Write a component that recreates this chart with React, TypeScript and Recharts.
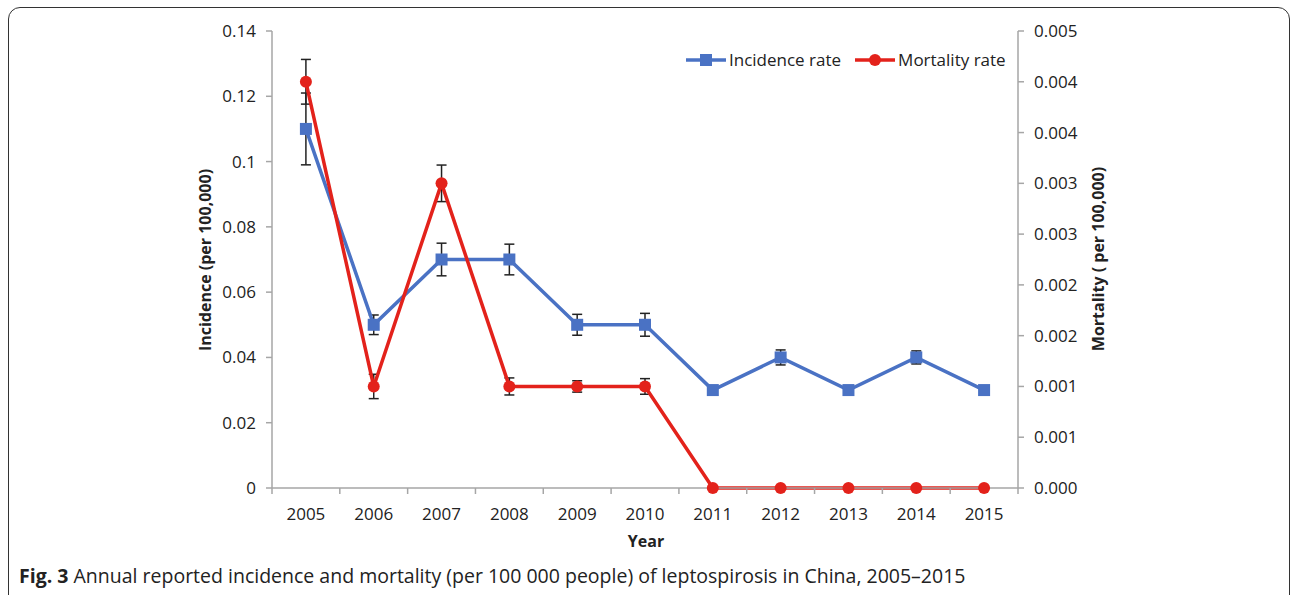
import React from 'react'
import {
  LineChart,
  Line,
  XAxis,
  YAxis,
  ErrorBar,
  Legend,
} from 'recharts'

// annual figures, per 100,000 people
const years = ['2005', '2006', '2007', '2008', '2009', '2010', '2011', '2012', '2013', '2014', '2015']
const incidence = [0.11, 0.05, 0.07, 0.07, 0.05, 0.05, 0.03, 0.04, 0.03, 0.04, 0.03]
const incidenceErr = [0.011, 0.003, 0.005, 0.0047, 0.0032, 0.0035, 0, 0.0023, 0.0012, 0.002, 0]
const mortality = [0.004, 0.001, 0.003, 0.001, 0.001, 0.001, 0, 0, 0, 0, 0]
const mortalityErr = [0.00022, 0.00012, 0.00018, 0.000084, 0.000056, 0.000077, 0, 0, 0, 0, 0]

const leftTicks = [0, 0.02, 0.04, 0.06, 0.08, 0.1, 0.12, 0.14]
const leftLabels = ['0', '0.02', '0.04', '0.06', '0.08', '0.1', '0.12', '0.14']
const rightTicks = [0, 0.0005, 0.001, 0.0015, 0.002, 0.0025, 0.003, 0.0035, 0.004, 0.0045]
const rightLabels = ['0.000', '0.001', '0.001', '0.002', '0.002', '0.003', '0.003', '0.004', '0.004', '0.005']

const data = years.map((year, i) => ({
  year,
  incidence: incidence[i],
  incidenceErr: incidenceErr[i],
  mortality: mortality[i],
  mortalityErr: mortalityErr[i],
}))

const BLUE = '#4A72C4'
const RED = '#E3221B'
const AXIS = '#A6A6A6'
const FONT = '"Open Sans", sans-serif'

const SquareDot = (props: any) => {
  const { cx, cy, index } = props
  if (cx == null || cy == null) return null
  return <rect key={`sq-${index}`} x={cx - 6} y={cy - 6} width={12} height={12} fill={BLUE} />
}

// Excel-style category axis: labels centred, tick marks on the band edges
const YearTick = (props: any) => {
  const { x, y, payload, index, visibleTicksCount } = props
  const half = payload.offset ?? 0
  const last = index === visibleTicksCount - 1
  return (
    <g>
      <line x1={x - half} y1={y - 8} x2={x - half} y2={y - 2} stroke={AXIS} strokeWidth={1.5} />
      {last && (
        <line x1={x + half} y1={y - 8} x2={x + half} y2={y - 2} stroke={AXIS} strokeWidth={1.5} />
      )}
      <text x={x} y={y + 24} textAnchor="middle" fontSize={17} fontFamily={FONT} fill="#222">
        {payload.value}
      </text>
    </g>
  )
}

const LegendIcon = ({ color, square }: { color: string; square: boolean }) => (
  <svg width={40} height={14} style={{ display: 'block' }}>
    <line x1={0} y1={7} x2={40} y2={7} stroke={color} strokeWidth={3.5} />
    {square ? (
      <rect x={14} y={1} width={12} height={12} fill={color} />
    ) : (
      <circle cx={20} cy={7} r={6} fill={color} />
    )}
  </svg>
)

const renderLegend = () => (
  <div style={{ display: 'flex', alignItems: 'center', fontFamily: FONT, fontSize: 17, color: '#222' }}>
    <LegendIcon color={BLUE} square />
    <span style={{ marginLeft: 3, marginRight: 14 }}>Incidence rate</span>
    <LegendIcon color={RED} square={false} />
    <span style={{ marginLeft: 3 }}>Mortality rate</span>
  </div>
)

const axisTitle: React.CSSProperties = {
  position: 'absolute',
  fontFamily: FONT,
  fontWeight: 700,
  fontSize: 16,
  color: '#222',
  whiteSpace: 'nowrap',
}

export default function App() {
  return (
    <div style={{ position: 'relative', width: 1292, height: 595, overflow: 'hidden', background: '#fff' }}>
      <style>{'body{margin:0}'}</style>
      <div
        style={{
          position: 'absolute',
          left: 8,
          top: 7,
          width: 1280,
          height: 620,
          border: '1.5px solid #333',
          borderRadius: 12,
        }}
      />
      <LineChart
        width={1292}
        height={595}
        data={data}
        margin={{ top: 31, right: 184, left: 202, bottom: 77 }}
      >
        <XAxis
          dataKey="year"
          scale="band"
          height={30}
          stroke={AXIS}
          strokeWidth={1.5}
          tickLine={false}
          tick={<YearTick />}
          interval={0}
        />
        <YAxis
          yAxisId="left"
          width={70}
          domain={[0, 0.14]}
          ticks={leftTicks}
          tickFormatter={(v: number) => leftLabels[leftTicks.indexOf(v)]}
          stroke={AXIS}
          strokeWidth={1.5}
          tickSize={6}
          tickMargin={10}
          tick={{ fill: '#222', fontSize: 17, fontFamily: FONT }}
        />
        <YAxis
          yAxisId="right"
          orientation="right"
          width={90}
          domain={[0, 0.0045]}
          ticks={rightTicks}
          tickFormatter={(v: number) => rightLabels[rightTicks.indexOf(v)]}
          stroke={AXIS}
          strokeWidth={1.5}
          tickSize={6}
          tickMargin={10}
          tick={{ fill: '#222', fontSize: 17, fontFamily: FONT }}
        />
        <Legend
          layout="horizontal"
          verticalAlign="middle"
          align="center"
          content={renderLegend}
          wrapperStyle={{ position: 'absolute', top: 48, left: 686, width: 'auto' }}
        />
        <Line
          yAxisId="left"
          dataKey="incidence"
          stroke={BLUE}
          strokeWidth={3.5}
          dot={<SquareDot />}
          activeDot={false}
          isAnimationActive={false}
        >
          <ErrorBar dataKey="incidenceErr" width={5} stroke="#222" strokeWidth={1.5} direction="y" />
        </Line>
        <Line
          yAxisId="right"
          dataKey="mortality"
          stroke={RED}
          strokeWidth={3.5}
          dot={{ r: 6, fill: RED, stroke: RED, strokeWidth: 0 }}
          activeDot={false}
          isAnimationActive={false}
        >
          <ErrorBar dataKey="mortalityErr" width={5} stroke="#222" strokeWidth={1.5} direction="y" />
        </Line>
      </LineChart>
      <div style={{ ...axisTitle, left: 205, top: 260, transform: 'translate(-50%, -50%) rotate(-90deg)' }}>
        Incidence (per 100,000)
      </div>
      <div style={{ ...axisTitle, left: 1098, top: 259, transform: 'translate(-50%, -50%) rotate(-90deg)' }}>
        Mortality ( per 100,000)
      </div>
      <div style={{ ...axisTitle, left: 646, top: 541, transform: 'translate(-50%, -50%)' }}>Year</div>
      <div
        style={{
          position: 'absolute',
          left: 19,
          top: 562,
          fontFamily: FONT,
          fontSize: 19.5,
          color: '#222',
          whiteSpace: 'nowrap',
        }}
      >
        <b>Fig. 3</b> Annual reported incidence and mortality (per 100 000 people) of leptospirosis in China, 2005–2015
      </div>
    </div>
  )
}
